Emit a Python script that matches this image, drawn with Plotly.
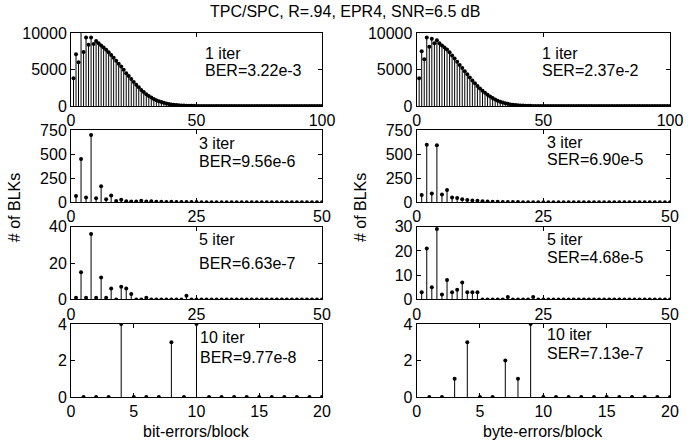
import plotly.graph_objects as go
from plotly.subplots import make_subplots

# ---------------- data ----------------
title_text = "TPC/SPC, R=.94, EPR4, SNR=6.5 dB"

x_100 = list(range(1, 101))
x_50 = list(range(1, 51))
x_20 = list(range(1, 21))

# bit errors per block
bit_iter1 = [3800, 7100, 6000, 10500, 7400, 9400, 8400, 9400, 8500, 8900,
             8600, 8300, 8000, 7700, 7350, 7000, 6600, 6200, 5800, 5400,
             4950, 4500, 4100, 3700, 3300, 2900, 2550, 2200, 1900, 1620,
             1380, 1160, 970, 800, 660, 540, 440, 350, 280, 220,
             175, 135, 105, 80, 62, 47, 35, 26, 19, 14,
             10, 7, 5, 4, 3, 2, 1, 1, 1, 0,
             0, 0, 0, 0, 0, 0, 0, 0, 0, 0,
             0, 0, 0, 0, 0, 0, 0, 0, 0, 0,
             0, 0, 0, 0, 0, 0, 0, 0, 0, 0,
             0, 0, 0, 0, 0, 0, 0, 0, 0, 0]
bit_iter3 = [65, 450, 50, 698, 41, 166, 31, 71, 14, 27,
             11, 9, 8, 16, 8, 11, 6, 5, 4, 6,
             3, 3, 2, 2, 2, 1, 1, 1, 1, 1,
             0, 0, 0, 0, 0, 0, 0, 0, 0, 0,
             0, 0, 0, 0, 0, 0, 0, 0, 0, 0]
bit_iter5 = [1, 15, 1, 36, 1, 12, 1, 6, 0, 7,
             6, 3, 0, 0, 1, 0, 0, 0, 0, 0,
             0, 0, 2, 0, 0, 0, 0, 0, 0, 0,
             0, 0, 0, 0, 0, 0, 0, 0, 0, 0,
             0, 0, 0, 0, 0, 0, 0, 0, 0, 0]
bit_iter10 = [0, 0, 0, 4, 0, 0, 0, 3, 0, 4,
              0, 0, 0, 0, 0, 0, 0, 0, 0, 0]

# byte errors per block
byte_iter1 = [3800, 7500, 6400, 9400, 8100, 9200, 8600, 9000, 8600, 8300,
              8000, 7750, 7350, 6900, 6500, 6050, 5600, 5200, 4750, 4350,
              3900, 3500, 3100, 2750, 2400, 2100, 1800, 1550, 1300, 1080,
              890, 730, 590, 470, 370, 290, 220, 170, 130, 95,
              70, 50, 36, 26, 18, 12, 8, 6, 4, 3,
              2, 1, 1, 0, 0, 0, 0, 0, 0, 0,
              0, 0, 0, 0, 0, 0, 0, 0, 0, 0,
              0, 0, 0, 0, 0, 0, 0, 0, 0, 0,
              0, 0, 0, 0, 0, 0, 0, 0, 0, 0,
              0, 0, 0, 0, 0, 0, 0, 0, 0, 0]
byte_iter3 = [76, 597, 90, 591, 81, 128, 50, 45, 31, 24,
              19, 15, 10, 8, 6, 5, 4, 3, 2, 2,
              1, 1, 1, 1, 0, 0, 0, 0, 0, 0,
              0, 0, 0, 0, 0, 0, 0, 0, 0, 0,
              0, 0, 0, 0, 0, 0, 0, 0, 0, 0]
byte_iter5 = [3, 21, 5, 29, 2, 8, 3, 4, 7, 3,
              3, 3, 0, 0, 0, 0, 0, 1, 0, 0,
              0, 0, 1, 0, 0, 0, 0, 0, 0, 0,
              0, 0, 0, 0, 0, 0, 0, 0, 0, 0,
              0, 0, 0, 0, 0, 0, 0, 0, 0, 0]
byte_iter10 = [0, 0, 1, 3, 0, 0, 2, 1, 4, 0,
               0, 0, 0, 0, 0, 0, 0, 0, 0, 0]

iter_labels = ["1 iter", "3 iter", "5 iter", "10 iter"]
ber_labels = ["BER=3.22e-3", "BER=9.56e-6", "BER=6.63e-7", "BER=9.77e-8"]
ser_labels = ["SER=2.37e-2", "SER=6.90e-5", "SER=4.68e-5", "SER=7.13e-7"]

xticks_100 = [0, 50, 100]
xticks_50 = [0, 25, 50]
xticks_20 = [0, 5, 10, 15, 20]
yticks_r1 = [0, 5000, 10000]
yticks_r2 = [0, 250, 500, 750]
yticks_r3_left = [0, 20, 40]
yticks_r3_right = [0, 10, 20, 30]
yticks_r4 = [0, 2, 4]

xlabel_left = "bit-errors/block"
xlabel_right = "byte-errors/block"
ylabel = "# of BLKs"

# ---------------- figure ----------------
FONT = "Liberation Sans, Arial, Helvetica, sans-serif"
FS = 16
fig = make_subplots(rows=4, cols=2)

panels = [
    # row, col, x, y, xr, xt, yr, yt, line1, line2, (lx, ly1, ly2)
    (1, 1, x_100, bit_iter1, [0, 100], xticks_100, [0, 10000], yticks_r1, iter_labels[0], ber_labels[0], (0.526, 0.72, 0.48)),
    (1, 2, x_100, byte_iter1, [0, 100], xticks_100, [0, 10000], yticks_r1, iter_labels[0], ser_labels[0], (0.487, 0.72, 0.48)),
    (2, 1, x_50, bit_iter3, [0, 50], xticks_50, [0, 750], yticks_r2, iter_labels[1], ber_labels[1], (0.502, 0.82, 0.56)),
    (2, 2, x_50, byte_iter3, [0, 50], xticks_50, [0, 750], yticks_r2, iter_labels[1], ser_labels[1], (0.507, 0.83, 0.585)),
    (3, 1, x_50, bit_iter5, [0, 50], xticks_50, [0, 40], yticks_r3_left, iter_labels[2], ber_labels[2], (0.502, 0.817, 0.50)),
    (3, 2, x_50, byte_iter5, [0, 50], xticks_50, [0, 30], yticks_r3_right, iter_labels[2], ser_labels[2], (0.507, 0.817, 0.57)),
    (4, 1, x_20, bit_iter10, [0, 20], xticks_20, [0, 4], yticks_r4, iter_labels[3], ber_labels[3], (0.506, 0.82, 0.545)),
    (4, 2, x_20, byte_iter10, [0, 20], xticks_20, [0, 4], yticks_r4, iter_labels[3], ser_labels[3], (0.507, 0.85, 0.60)),
]

row_domains = {1: [0.7995, 1.0], 2: [0.535, 0.7335], 3: [0.268, 0.468], 4: [0.0, 0.2005]}
col_domains = {1: [0.0, 0.419], 2: [0.577, 1.0]}

annotations = []
for idx, (r, c, xs, ys, xr, xt, yr, yt, t1, t2, pos) in enumerate(panels):
    sx, sy = [], []
    for a, b in zip(xs, ys):
        sx += [a, a, None]
        sy += [0, b, None]
    fig.add_trace(go.Scatter(x=sx, y=sy, mode="lines",
                             line=dict(color="black", width=1),
                             hoverinfo="skip", showlegend=False), row=r, col=c)
    fig.add_trace(go.Scatter(x=xs, y=ys, mode="markers",
                             marker=dict(color="black", size=4),
                             showlegend=False), row=r, col=c)
    n = idx + 1
    suffix = "" if n == 1 else str(n)
    axis_common = dict(showline=True, linecolor="black", linewidth=1, mirror="ticks",
                       ticks="inside", ticklen=4, tickcolor="black", showgrid=False,
                       zeroline=False, automargin=False,
                       tickfont=dict(family=FONT, size=FS, color="black"))
    fig.layout["xaxis" + suffix].update(domain=col_domains[c], range=xr, tickvals=xt,
                                        ticktext=[str(v) for v in xt], **axis_common)
    fig.layout["yaxis" + suffix].update(domain=row_domains[r], range=yr, tickvals=yt,
                                        ticktext=[str(v) for v in yt], **axis_common)
    lx, ly1, ly2 = pos
    for txt, yy in ((t1, ly1), (t2, ly2)):
        annotations.append(dict(text=txt, x=lx, y=yy, xref=f"x{suffix} domain",
                                yref=f"y{suffix} domain", xanchor="left", yanchor="middle",
                                showarrow=False, font=dict(family=FONT, size=FS, color="black")))

annotations += [
    dict(text=title_text, x=0.457, y=1.058, xref="paper", yref="paper", showarrow=False,
         xanchor="center", yanchor="middle", font=dict(family=FONT, size=FS, color="black")),
    dict(text=xlabel_left, x=0.21, y=-0.096, xref="paper", yref="paper", showarrow=False,
         xanchor="center", yanchor="middle", font=dict(family=FONT, size=FS, color="black")),
    dict(text=xlabel_right, x=0.788, y=-0.096, xref="paper", yref="paper", showarrow=False,
         xanchor="center", yanchor="middle", font=dict(family=FONT, size=FS, color="black")),
    dict(text=ylabel, x=-0.095, y=0.519, xref="paper", yref="paper", showarrow=False,
         textangle=-90, xanchor="center", yanchor="middle", font=dict(family=FONT, size=FS, color="black")),
    dict(text=ylabel, x=0.4825, y=0.519, xref="paper", yref="paper", showarrow=False,
         textangle=-90, xanchor="center", yanchor="middle", font=dict(family=FONT, size=FS, color="black")),
]

fig.update_layout(width=691, height=445, margin=dict(l=71, r=21, t=33, b=48),
                  paper_bgcolor="white", plot_bgcolor="white", annotations=annotations,
                  font=dict(family=FONT, size=FS, color="black"))

# remove the browser's default 8px body margin so the figure fills the window
fig.write_html("out.html", config={"displayModeBar": False},
               post_script="document.body.style.margin='0px';")
